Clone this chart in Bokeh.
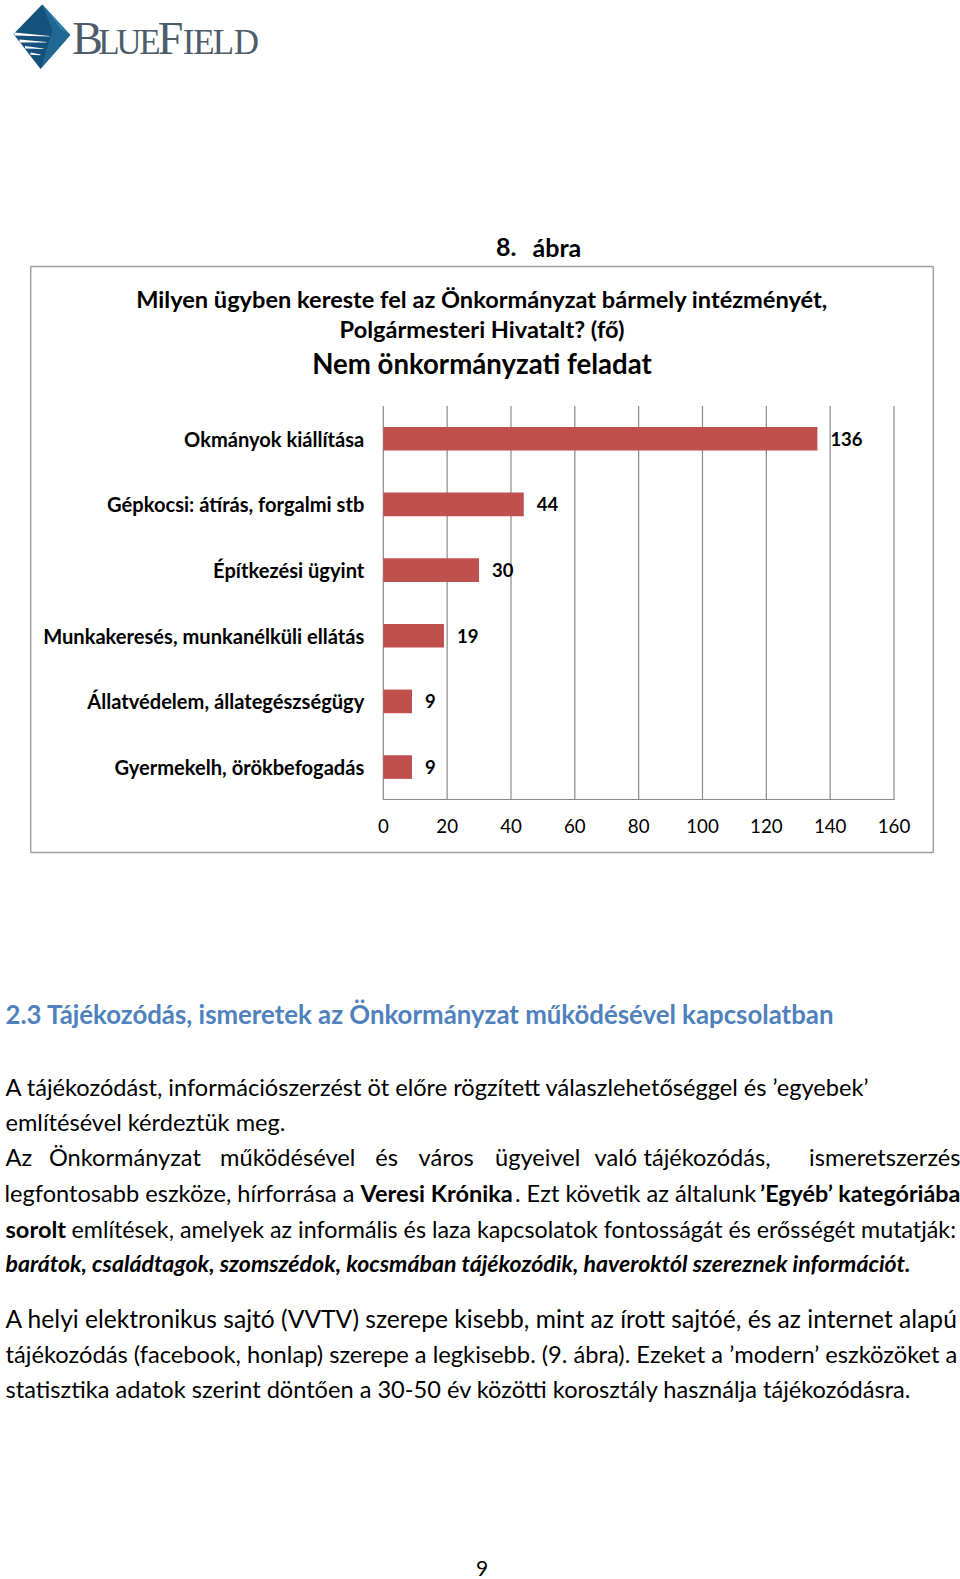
from bokeh.plotting import figure
from bokeh.models import Range1d, FactorRange, CategoricalScale, LinearScale, LinearAxis, FixedTicker
from bokeh.core.properties import value
from bokeh.embed import file_html
from bokeh.resources import INLINE

# ---------------- data ----------------
categories = [
    "Okmányok kiállítása",
    "Gépkocsi: átírás, forgalmi stb",
    "Építkezési ügyint",
    "Munkakeresés, munkanélküli ellátás",
    "Állatvédelem, állategészségügy",
    "Gyermekelh, örökbefogadás",
]
values = [136, 44, 30, 19, 9, 9]
x_ticks = [0, 20, 40, 60, 80, 100, 120, 140, 160]
x_max = 160

figure_number = "8."
figure_word = "ábra"
chart_title = [
    "Milyen ügyben kereste fel az Önkormányzat bármely intézményét,",
    "Polgármesteri Hivatalt? (fő)",
]
chart_subtitle = "Nem önkormányzati feladat"
heading = "2.3 Tájékozódás, ismeretek az Önkormányzat működésével kapcsolatban"
page_number = "9"

# ---------------- page geometry ----------------
W, H = 960, 1579
PX0, PX1 = 382.8, 893.5      # plot area x (value 0 .. x_max)
PY0, PY1 = 405.4, 799.4      # plot area y (top .. bottom)
FONT = "Lato"

p = figure(width=W, height=H, x_range=Range1d(0, W), y_range=Range1d(H, 0),
           output_backend="svg", toolbar_location=None,
           x_axis_location=None, y_axis_location=None,
           min_border=0, background_fill_color="white", border_fill_color="white")
p.grid.visible = False
p.outline_line_color = None

# value range across the full page width for the axis
scale = (PX1 - PX0) / x_max
p.extra_x_ranges = {"val": Range1d(-PX0 / scale, (W - PX0) / scale)}


def txt(x, y, s, size, style="normal", color="#000000", align="left", font=FONT):
    p.text(x=[x], y=[y], text=[s], text_font=value(font), text_font_size=f"{size}px",
           text_font_style=style, text_color=color, text_align=align,
           text_baseline="middle")


# ---------------- logo ----------------
p.patch(x=[41.7, 69.8, 40.0, 13.0], y=[4.0, 34.5, 68.5, 33.5],
        fill_color="#14527c", line_color=None)
p.patch(x=[41.7, 69.8, 40.0, 52.0], y=[4.0, 34.5, 68.5, 30.0],
        fill_color="#1f6a95", line_color=None, fill_alpha=0.9)
p.patch(x=[41.7, 69.8, 60.0], y=[4.0, 34.5, 28.0],
        fill_color="#2f82ad", line_color=None, fill_alpha=0.9)
for (xa, ya, xb, yb, w) in [(14, 33.5, 49, 35.8, 3.2), (19, 40.5, 46, 41.8, 3.0),
                             (24.5, 46.8, 43, 48.3, 2.6), (30, 53.2, 40, 54.4, 2.2)]:
    p.patch(x=[xa, xb, xb, xa], y=[ya - w / 2, yb - 0.3, yb + 0.3, ya + w / 2],
            fill_color="white", line_color=None)

LOGO_FONT = "Liberation Serif"
LOGO_COLOR = "#4e5c6a"
BIG, SMALL = 46, 35
base = 38.0 + 0.33 * BIG
logo_letters = ["B", "L", "U", "E", "F", "I", "E", "L", "D"]
logo_cx = [87.0, 108.5, 128.5, 149.5, 170.0, 188.0, 203.5, 223.0, 246.0]
logo_big = [True, False, False, False, True, False, False, False, False]
for ch, cx, big in zip(logo_letters, logo_cx, logo_big):
    sz = BIG if big else SMALL
    txt(cx, base - 0.33 * sz, ch, sz, color=LOGO_COLOR, font=LOGO_FONT, align="center")

# ---------------- figure caption ----------------
txt(495.6, 246, figure_number, 25, "bold")
txt(532, 246, figure_word, 25, "bold")

# ---------------- chart box & titles ----------------
p.quad(left=[30.2], right=[932.8], top=[266], bottom=[852],
       fill_color=None, line_color="#a0a0a0", line_width=1.5)
txt(481.5, 298, chart_title[0], 23.6, "bold", align="center")
txt(481.5, 328.5, chart_title[1], 23.6, "bold", align="center")
txt(481.5, 362.5, chart_subtitle, 27.6, "bold", align="center")

# gridlines
p.segment(x0=x_ticks, x1=x_ticks, y0=[PY0] * len(x_ticks), y1=[PY1] * len(x_ticks),
          x_range_name="val", line_color="#8a8a8a", line_width=1.2)

# x axis
xaxis = LinearAxis(x_range_name="val", ticker=FixedTicker(ticks=x_ticks),
                   fixed_location=PY1, bounds=(0, x_max))
xaxis.axis_line_color = "#8a8a8a"
xaxis.axis_line_width = 1.2
xaxis.major_tick_line_color = None
xaxis.minor_tick_line_color = None
xaxis.major_label_standoff = 13
xaxis.major_label_text_font = FONT
xaxis.major_label_text_font_size = "18.7px"
xaxis.major_label_text_color = "#000000"
p.add_layout(xaxis, "below")

# bars through a sub-coordinate system (value x categories)
sub = p.subplot(x_source=Range1d(0, x_max), y_source=FactorRange(factors=categories),
                x_target=Range1d(PX0, PX1), y_target=Range1d(PY0, PY1))
bars = sub.hbar(y=categories, left=0, right=values, height=0.36,
                fill_color="#c0504d", line_color=None)
bars.coordinates.x_scale = LinearScale()
bars.coordinates.y_scale = CategoricalScale()
vlab = sub.text(x=values, y=categories, text=[str(v) for v in values], x_offset=13,
                text_font=value(FONT), text_font_size="18.5px", text_font_style="bold",
                text_baseline="middle", text_color="#000000")
vlab.coordinates.y_scale = CategoricalScale()
clab = sub.text(x=[0] * len(categories), y=categories, text=categories, x_offset=-19,
                text_align="right", text_font=value(FONT), text_font_size="20.1px",
                text_font_style="bold", text_baseline="middle", text_color="#000000")
clab.coordinates.y_scale = CategoricalScale()

# ---------------- body text ----------------
BODY = 23.6
txt(5, 1013.5, heading, 25.8, "bold", color="#4f81bd")

txt(5, 1086, "A tájékozódást, információszerzést öt előre rögzített válaszlehetőséggel és ’egyebek’", BODY)
txt(5, 1121, "említésével kérdeztük meg.", BODY)

just_words = ["Az", "Önkormányzat", "működésével", "és", "város", "ügyeivel", "való",
              "tájékozódás,", "ismeretszerzés"]
just_x = [5, 48.4, 219.6, 374.7, 418, 494.6, 594, 643, 960]
for wd, wx in zip(just_words, just_x):
    txt(wx, 1156.5, wd, BODY, align="right" if wx == 960 else "left")

txt(4, 1192.5, "legfontosabb eszköze, hírforrása a", BODY)
txt(360, 1192.5, "Veresi Krónika", BODY, "bold")
txt(514.5, 1192.5, ". Ezt követik az általunk", BODY)
txt(960, 1192.5, "’Egyéb’ kategóriába", 23.3, "bold", align="right")

txt(5, 1228, "sorolt", BODY, "bold")
txt(71, 1228, "említések, amelyek az informális és laza kapcsolatok fontosságát és erősségét mutatják:", 23.25)

txt(5, 1262.5, "barátok, családtagok, szomszédok, kocsmában tájékozódik, haveroktól szereznek információt.", 23.1, "bold italic")

txt(5, 1317.5, "A helyi elektronikus sajtó (VVTV) szerepe kisebb, mint az írott sajtóé, és az internet alapú", 24.6)
txt(5, 1353, "tájékozódás (facebook, honlap) szerepe a legkisebb. (9. ábra). Ezeket a ’modern’ eszközöket a", 23.7)

txt(5, 1388, "statisztika adatok szerint döntően a 30-50 év közötti korosztály használja tájékozódásra.", BODY)

txt(481.5, 1568, page_number, 21, align="center")

open("out.html", "w").write(file_html(p, INLINE))
